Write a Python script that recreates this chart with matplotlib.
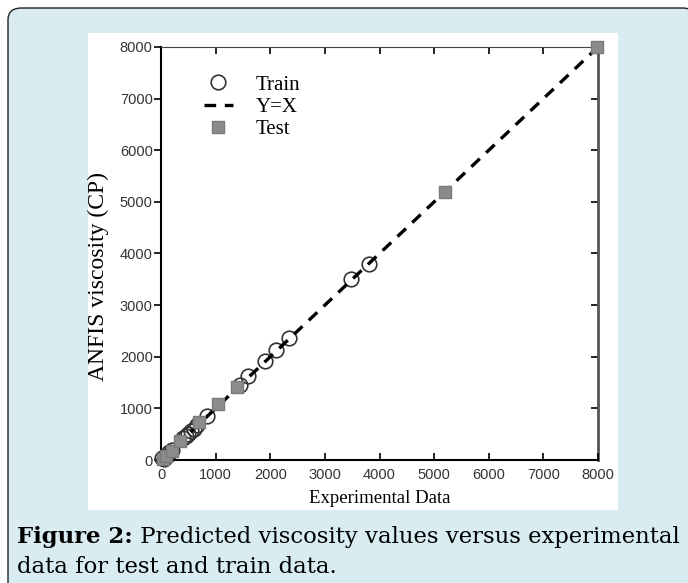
import numpy as np
import matplotlib.pyplot as plt
from matplotlib.patches import FancyBboxPatch, Rectangle
from matplotlib.text import Annotation

# Datos
train_exp = [20, 50, 80, 120, 150, 200, 400, 450, 500, 550, 600, 650,
             850, 1450, 1600, 1900, 2100, 2350, 3480, 3800]
train_anfis = [30, 10, 60, 100, 150, 200, 420, 470, 500, 560, 600, 680,
               860, 1450, 1620, 1920, 2130, 2360, 3500, 3800]
test_exp = [30, 100, 200, 350, 700, 1050, 1400, 5200, 7980]
test_anfis = [20, 80, 180, 370, 730, 1080, 1420, 5200, 8000]
ticks = [0, 1000, 2000, 3000, 4000, 5000, 6000, 7000, 8000]
line_xy = [0, 8000]

fig = plt.figure(figsize=(6.88, 5.83), dpi=100)
fig.patch.set_facecolor("white")

# Caja del pie de figura
box = FancyBboxPatch((8 / 688, -0.05), 1.0, 1 - 8 / 583 + 0.05,
                     boxstyle="round,pad=0,rounding_size=0.02",
                     transform=fig.transFigure, facecolor="#d8ecf1",
                     edgecolor="#222222", linewidth=1.0, zorder=0)
fig.patches.append(box)
panel = Rectangle((88 / 688, 1 - 510 / 583), 530 / 688, 477 / 583,
                  transform=fig.transFigure, facecolor="white",
                  edgecolor="none", zorder=1)
fig.patches.append(panel)

ax = fig.add_axes([161 / 688, 1 - 460 / 583, 437 / 688, 413 / 583])
ax.set_zorder(5)
ax.set_facecolor("white")

ax.plot(train_exp, train_anfis, "o", markersize=10.5, markerfacecolor="none",
        markeredgecolor="#333333", markeredgewidth=1.2, label="Train",
        clip_on=False, zorder=2)
ax.plot(line_xy, line_xy, color="black", linewidth=2.4, dashes=(3.5, 2.6),
        label="Y=X", zorder=3)
ax.plot(test_exp, test_anfis, "s", markersize=8.5, markerfacecolor="#8c8c8c",
        markeredgecolor="#7a7a7a", label="Test", clip_on=False, zorder=4)

ax.set_xlim(0, 8000)
ax.set_ylim(0, 8000)
ax.set_xticks(ticks)
ax.set_yticks(ticks)
ax.tick_params(axis="both", labelsize=10.5, labelcolor="#333333", length=5,
               width=1.2)
ax.tick_params(axis="x", direction="in", top=True, pad=6)
ax.tick_params(axis="y", direction="out", right=False, pad=1)
for lab in ax.get_xticklabels() + ax.get_yticklabels():
    lab.set_family("Liberation Sans")

# ticks del lado derecho hacia dentro
ax_r = ax.secondary_yaxis("right")
ax_r.set_yticks(ticks)
ax_r.tick_params(direction="in", length=5, width=1.2, labelright=False)
ax_r.spines["right"].set_color("#555555")
ax_r.spines["right"].set_linewidth(2)

ax.spines["left"].set_linewidth(1.5)
ax.spines["bottom"].set_linewidth(1.5)
ax.spines["top"].set_linewidth(0.8)
ax.spines["top"].set_color("#444444")
ax.spines["right"].set_visible(False)

ax.set_xlabel("Experimental Data", family="Liberation Serif", fontsize=13.5)
ax.xaxis.set_label_coords(0.5, -0.073)
ax.set_ylabel("ANFIS viscosity (CP)", family="Liberation Serif", fontsize=17)
ax.yaxis.set_label_coords(-0.12, 0.445)

leg = ax.legend(loc="upper left", bbox_to_anchor=(0.098, 0.932), frameon=False,
                prop={"family": "Liberation Serif", "size": 15},
                borderpad=0, borderaxespad=0,
                handlelength=1.4, labelspacing=0.13, handletextpad=1.1)

# Pie de figura
cap_font = {"family": "DejaVu Serif", "fontsize": 16.4}
t1 = fig.text(17 / 688, 1 - 543 / 583, "Figure 2:", fontweight="bold",
              va="baseline", **cap_font)
t2 = Annotation(" Predicted viscosity values versus experimental",
                xy=(1, 0), xycoords=t1, va="bottom", ha="left", **cap_font)
fig.add_artist(t2)
fig.text(17 / 688, 1 - 573 / 583, "data for test and train data.",
         va="baseline", **cap_font)

fig.savefig("out.png", dpi=100, facecolor=fig.get_facecolor())
